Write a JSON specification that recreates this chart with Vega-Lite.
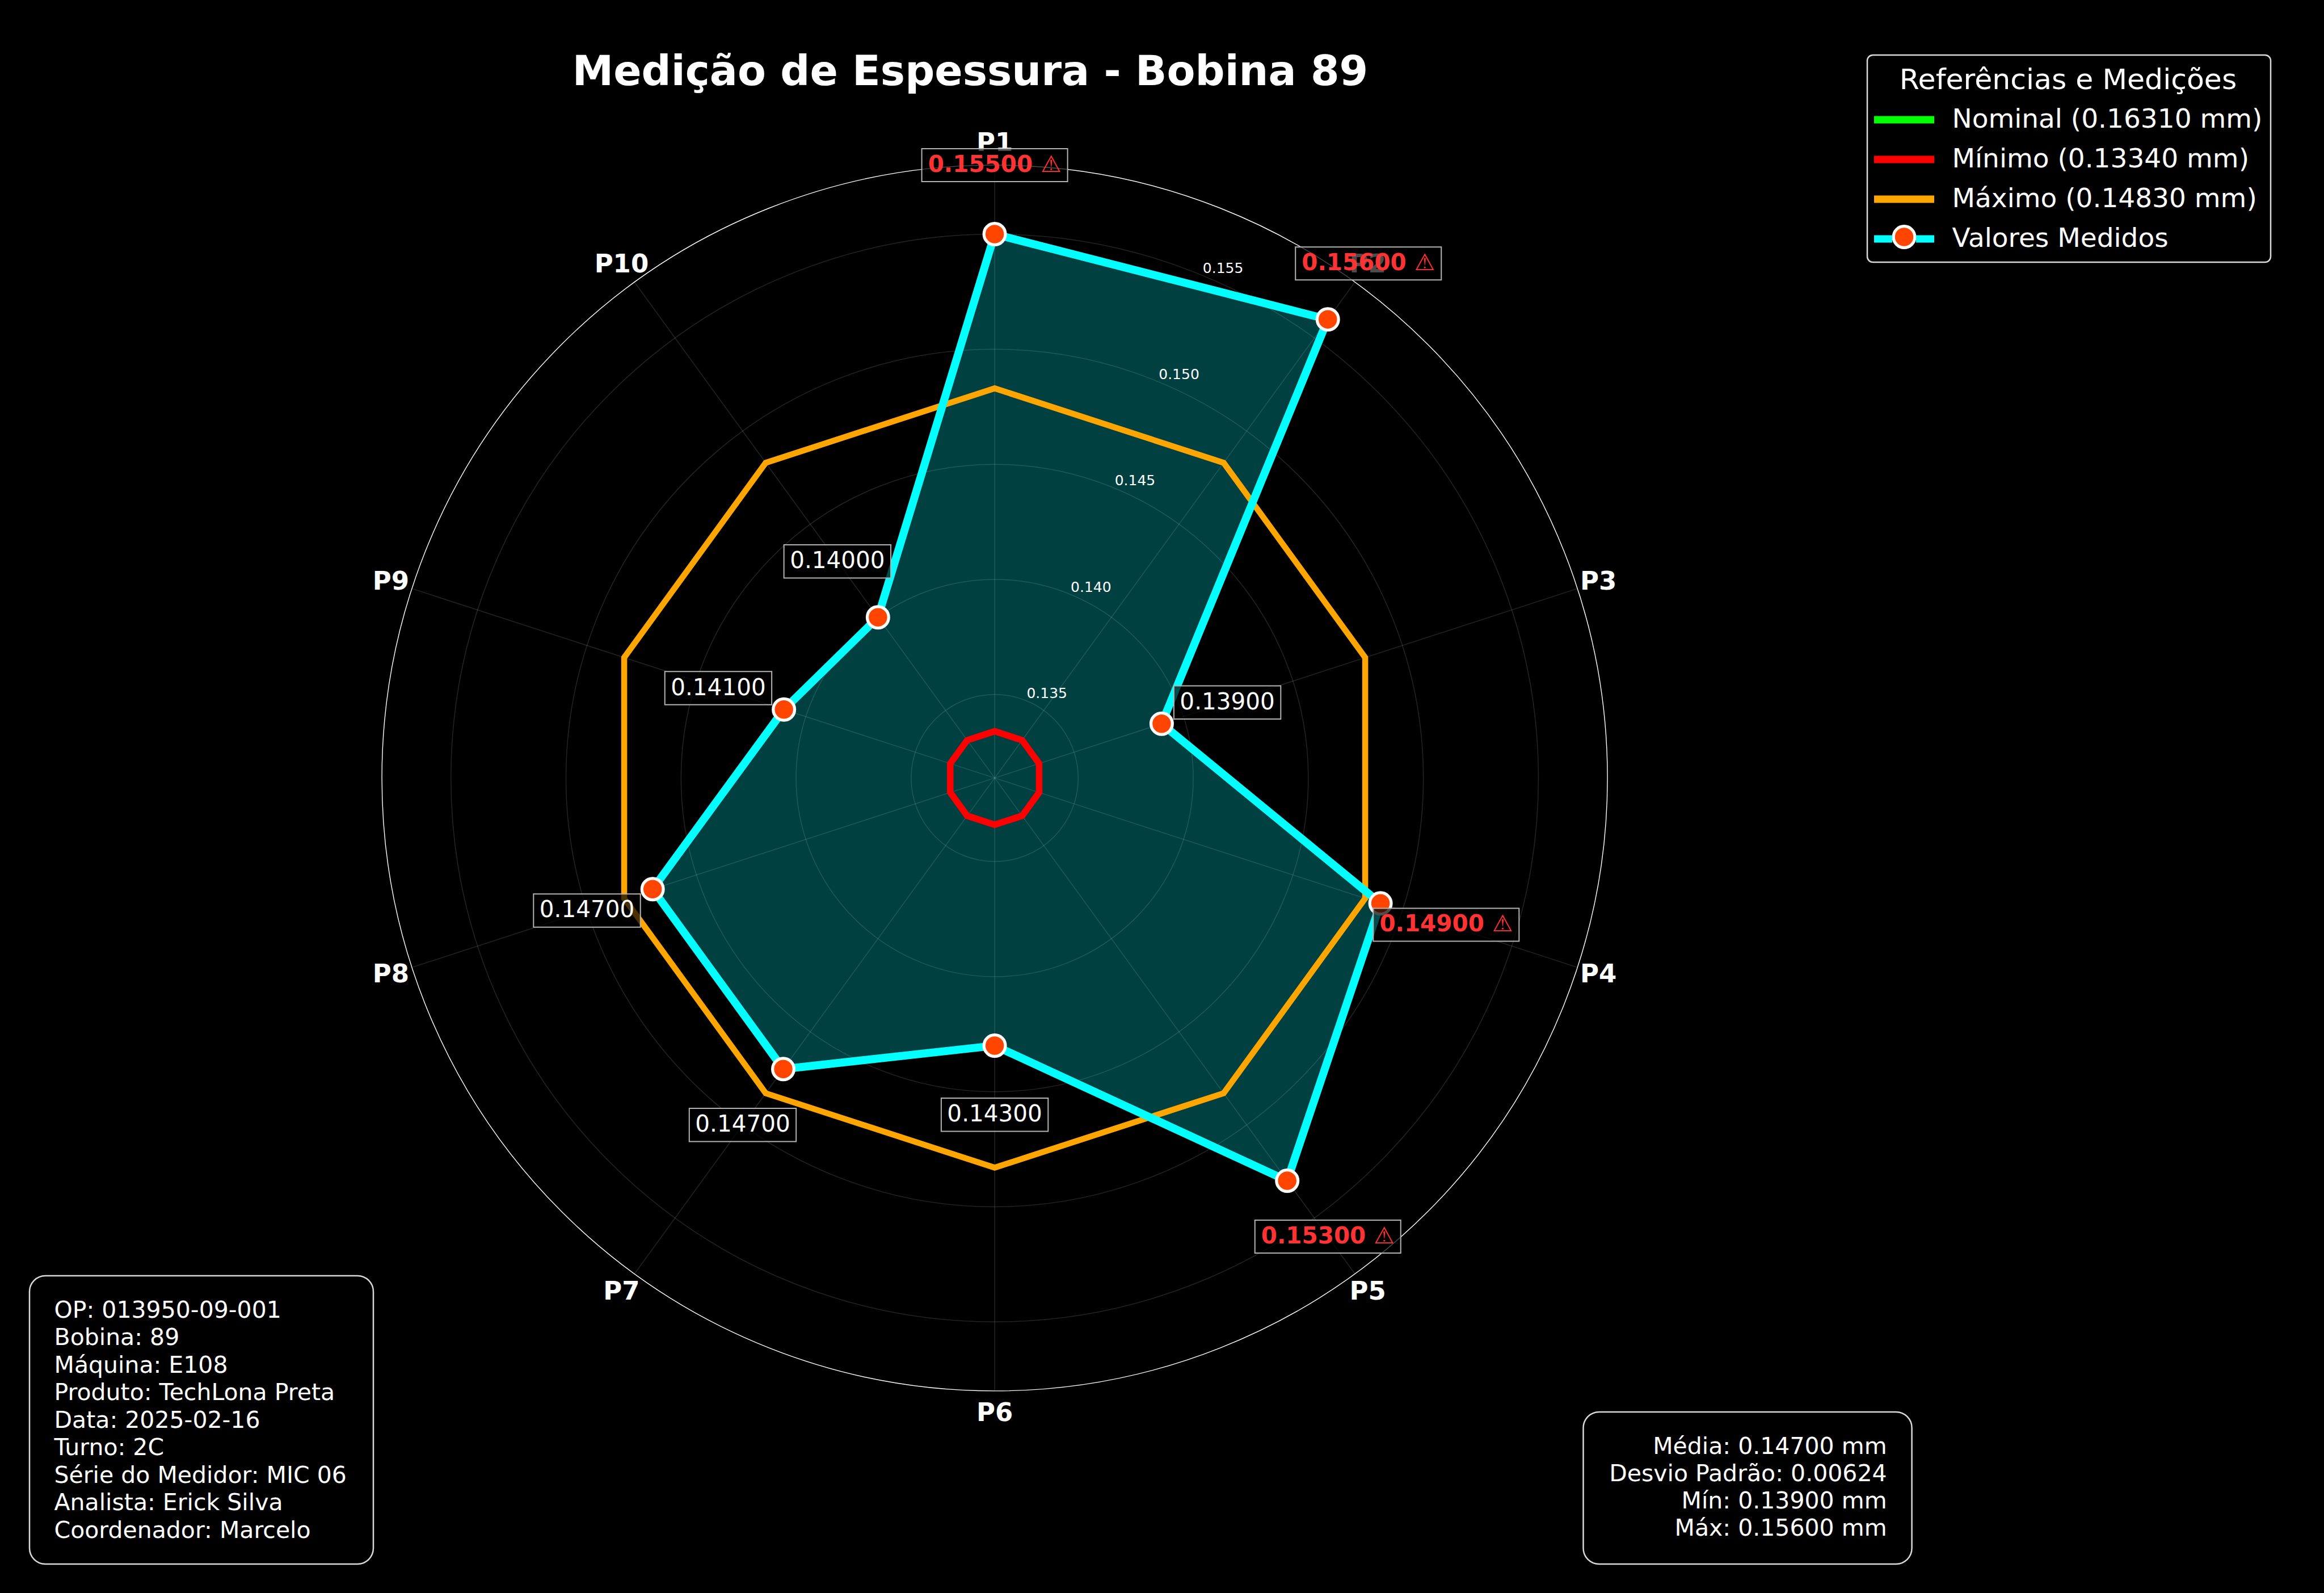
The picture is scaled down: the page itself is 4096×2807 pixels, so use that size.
{
  "$schema": "https://vega.github.io/schema/vega-lite/v6.json",
  "width": 4096,
  "height": 2807,
  "autosize": {"type": "none"},
  "padding": 0,
  "background": "black",
  "config": {"view": {"stroke": null}, "font": "DejaVu Sans"},
  "datasets": {
    "medidas": [
      {"ponto": "P1", "valor": 0.155},
      {"ponto": "P2", "valor": 0.156},
      {"ponto": "P3", "valor": 0.139},
      {"ponto": "P4", "valor": 0.149},
      {"ponto": "P5", "valor": 0.153},
      {"ponto": "P6", "valor": 0.143},
      {"ponto": "P7", "valor": 0.147},
      {"ponto": "P8", "valor": 0.147},
      {"ponto": "P9", "valor": 0.141},
      {"ponto": "P10", "valor": 0.140}
    ],
    "limites": [
      {"serie": "Mínimo (0.13340 mm)", "ponto": "P1", "valor": 0.1334},
      {"serie": "Mínimo (0.13340 mm)", "ponto": "P2", "valor": 0.1334},
      {"serie": "Mínimo (0.13340 mm)", "ponto": "P3", "valor": 0.1334},
      {"serie": "Mínimo (0.13340 mm)", "ponto": "P4", "valor": 0.1334},
      {"serie": "Mínimo (0.13340 mm)", "ponto": "P5", "valor": 0.1334},
      {"serie": "Mínimo (0.13340 mm)", "ponto": "P6", "valor": 0.1334},
      {"serie": "Mínimo (0.13340 mm)", "ponto": "P7", "valor": 0.1334},
      {"serie": "Mínimo (0.13340 mm)", "ponto": "P8", "valor": 0.1334},
      {"serie": "Mínimo (0.13340 mm)", "ponto": "P9", "valor": 0.1334},
      {"serie": "Mínimo (0.13340 mm)", "ponto": "P10", "valor": 0.1334},
      {"serie": "Máximo (0.14830 mm)", "ponto": "P1", "valor": 0.1483},
      {"serie": "Máximo (0.14830 mm)", "ponto": "P2", "valor": 0.1483},
      {"serie": "Máximo (0.14830 mm)", "ponto": "P3", "valor": 0.1483},
      {"serie": "Máximo (0.14830 mm)", "ponto": "P4", "valor": 0.1483},
      {"serie": "Máximo (0.14830 mm)", "ponto": "P5", "valor": 0.1483},
      {"serie": "Máximo (0.14830 mm)", "ponto": "P6", "valor": 0.1483},
      {"serie": "Máximo (0.14830 mm)", "ponto": "P7", "valor": 0.1483},
      {"serie": "Máximo (0.14830 mm)", "ponto": "P8", "valor": 0.1483},
      {"serie": "Máximo (0.14830 mm)", "ponto": "P9", "valor": 0.1483},
      {"serie": "Máximo (0.14830 mm)", "ponto": "P10", "valor": 0.1483}
    ],
    "ticks": [{"t": 0.135}, {"t": 0.14}, {"t": 0.145}, {"t": 0.15}, {"t": 0.155}],
    "borda": [{"t": 0.158}]
  },
  "layer": [
    {
      "data": {"name": "ticks"},
      "transform": [{"calculate": "(datum.t-0.13137)/0.02663", "as": "rn"}],
      "mark": {"type": "point", "shape": "circle", "filled": false, "stroke": "white", "strokeOpacity": 0.14, "strokeWidth": 1.5, "opacity": 1},
      "encoding": {
        "x": {"datum": 0, "type": "quantitative", "scale": {"domain": [-1.62324, 2.16935], "nice": false, "zero": false}, "axis": null},
        "y": {"datum": 0, "type": "quantitative", "scale": {"domain": [-1.32972, 1.26935], "nice": false, "zero": false}, "axis": null},
        "size": {"field": "rn", "type": "quantitative", "legend": null, "scale": {"type": "pow", "exponent": 2, "domain": [0, 1], "range": [0, 4665600], "zero": true}}
      }
    },
    {
      "data": {"name": "medidas"},
      "transform": [
        {"calculate": "toNumber(slice(datum.ponto,1))-1", "as": "i"},
        {"calculate": "datum.i*PI/5", "as": "th"},
        {"calculate": "0", "as": "centro"},
        {"calculate": "1", "as": "borda"},
        {"fold": ["centro", "borda"], "as": ["ponta", "r"]},
        {"calculate": "datum.r*sin(datum.th)", "as": "x"},
        {"calculate": "datum.r*cos(datum.th)", "as": "y"}
      ],
      "mark": {"type": "line", "stroke": "white", "strokeOpacity": 0.14, "strokeWidth": 1.5},
      "encoding": {
        "x": {"field": "x", "type": "quantitative", "axis": null},
        "y": {"field": "y", "type": "quantitative", "axis": null},
        "detail": {"field": "ponto", "type": "nominal"},
        "order": {"field": "r", "type": "quantitative"}
      }
    },
    {
      "data": {"name": "borda"},
      "transform": [{"calculate": "(datum.t-0.13137)/0.02663", "as": "rn"}],
      "mark": {"type": "point", "shape": "circle", "filled": false, "stroke": "white", "strokeWidth": 1.4, "opacity": 1},
      "encoding": {
        "x": {"datum": 0, "type": "quantitative", "axis": null},
        "y": {"datum": 0, "type": "quantitative", "axis": null},
        "size": {"field": "rn", "type": "quantitative", "legend": null}
      }
    },
    {
      "data": {"name": "medidas"},
      "transform": [
        {"calculate": "toNumber(slice(datum.ponto,1))-1", "as": "i"},
        {"calculate": "datum.i*PI/5", "as": "th"},
        {"calculate": "(datum.valor-0.13137)/0.02663", "as": "rn"},
        {"calculate": "datum.rn*sin(datum.th)", "as": "x"},
        {"calculate": "datum.rn*cos(datum.th)", "as": "y"}
      ],
      "mark": {"type": "line", "interpolate": "linear-closed", "fill": "#00FFFF", "fillOpacity": 0.25, "stroke": "#00FFFF", "strokeOpacity": 0, "strokeWidth": 0},
      "encoding": {
        "x": {"field": "x", "type": "quantitative", "axis": null},
        "y": {"field": "y", "type": "quantitative", "axis": null},
        "order": {"field": "i", "type": "quantitative"}
      }
    },
    {
      "data": {"name": "limites"},
      "transform": [
        {"filter": "datum.serie == 'Mínimo (0.13340 mm)'"},
        {"calculate": "toNumber(slice(datum.ponto,1))-1", "as": "i"},
        {"calculate": "datum.i*PI/5", "as": "th"},
        {"calculate": "(datum.valor-0.13137)/0.02663", "as": "rn"},
        {"calculate": "datum.rn*sin(datum.th)", "as": "x"},
        {"calculate": "datum.rn*cos(datum.th)", "as": "y"}
      ],
      "mark": {"type": "line", "interpolate": "linear-closed", "strokeWidth": 11.5},
      "encoding": {
        "x": {"field": "x", "type": "quantitative", "axis": null},
        "y": {"field": "y", "type": "quantitative", "axis": null},
        "order": {"field": "i", "type": "quantitative"},
        "stroke": {
          "field": "serie", "type": "nominal",
          "scale": {"domain": ["Nominal (0.16310 mm)", "Mínimo (0.13340 mm)", "Máximo (0.14830 mm)", "Valores Medidos"], "range": ["#00FF00", "#FF0000", "#FFA500", "#00FFFF"]},
          "legend": {
            "orient": "none", "legendX": 3303, "legendY": 117, "direction": "vertical", "padding": 0,
            "title": "Referências e Medições", "titleFont": "DejaVu Sans", "titleFontSize": 50.5, "titleFontWeight": "normal", "titleColor": "white", "titleAnchor": "middle", "titlePadding": 20, "titleLimit": 2000,
            "labelFont": "DejaVu Sans", "labelFontSize": 47, "labelColor": "white", "labelLimit": 2000, "labelOffset": 61,
            "symbolType": "M-3.533,0H3.533", "symbolSize": 900, "symbolStrokeWidth": 13, "symbolOffset": 29.5, "rowPadding": 17,
            "encode": {
              "symbols": {
                "update": {
                  "shape": {"signal": "datum.value === 'Valores Medidos' ? 'M-3.533,0H-1.4M1.4,0H3.533' : 'M-3.533,0H3.533'"}
                }
              }
            }
          }
        }
      }
    },
    {
      "data": {"name": "limites"},
      "transform": [
        {"filter": "datum.serie == 'Máximo (0.14830 mm)'"},
        {"calculate": "toNumber(slice(datum.ponto,1))-1", "as": "i"},
        {"calculate": "datum.i*PI/5", "as": "th"},
        {"calculate": "(datum.valor-0.13137)/0.02663", "as": "rn"},
        {"calculate": "datum.rn*sin(datum.th)", "as": "x"},
        {"calculate": "datum.rn*cos(datum.th)", "as": "y"}
      ],
      "mark": {"type": "line", "interpolate": "linear-closed", "strokeWidth": 10.5},
      "encoding": {
        "x": {"field": "x", "type": "quantitative", "axis": null},
        "y": {"field": "y", "type": "quantitative", "axis": null},
        "order": {"field": "i", "type": "quantitative"},
        "stroke": {"field": "serie", "type": "nominal"}
      }
    },
    {
      "data": {"name": "medidas"},
      "transform": [
        {"calculate": "'Valores Medidos'", "as": "serie"},
        {"calculate": "toNumber(slice(datum.ponto,1))-1", "as": "i"},
        {"calculate": "datum.i*PI/5", "as": "th"},
        {"calculate": "(datum.valor-0.13137)/0.02663", "as": "rn"},
        {"calculate": "datum.rn*sin(datum.th)", "as": "x"},
        {"calculate": "datum.rn*cos(datum.th)", "as": "y"}
      ],
      "mark": {"type": "line", "interpolate": "linear-closed", "strokeWidth": 14},
      "encoding": {
        "x": {"field": "x", "type": "quantitative", "axis": null},
        "y": {"field": "y", "type": "quantitative", "axis": null},
        "order": {"field": "i", "type": "quantitative"},
        "stroke": {"field": "serie", "type": "nominal"}
      }
    },
    {
      "data": {"name": "medidas"},
      "transform": [
        {"calculate": "toNumber(slice(datum.ponto,1))-1", "as": "i"},
        {"calculate": "datum.i*PI/5", "as": "th"},
        {"calculate": "(datum.valor-0.13137)/0.02663", "as": "rn"},
        {"calculate": "datum.rn*sin(datum.th)", "as": "x"},
        {"calculate": "datum.rn*cos(datum.th)", "as": "y"}
      ],
      "mark": {"type": "point", "shape": "circle", "filled": true, "fill": "#FF4500", "stroke": "white", "strokeWidth": 5.25, "size": 1425, "opacity": 1},
      "encoding": {
        "x": {"field": "x", "type": "quantitative", "axis": null},
        "y": {"field": "y", "type": "quantitative", "axis": null}
      }
    },
    {
      "data": {"name": "medidas"},
      "transform": [
        {"calculate": "toNumber(slice(datum.ponto,1))-1", "as": "i"},
        {"calculate": "datum.i*PI/5", "as": "th"},
        {"calculate": "1.036*sin(datum.th)", "as": "x"},
        {"calculate": "1.036*cos(datum.th)", "as": "y"}
      ],
      "mark": {"type": "text", "font": "DejaVu Sans", "fontWeight": "bold", "fontSize": 45, "color": "white", "align": "center", "baseline": "middle"},
      "encoding": {
        "x": {"field": "x", "type": "quantitative", "axis": null},
        "y": {"field": "y", "type": "quantitative", "axis": null},
        "text": {"field": "ponto", "type": "nominal"}
      }
    },
    {
      "data": {"name": "ticks"},
      "transform": [
        {"calculate": "(datum.t-0.13137)/0.02663", "as": "rn"},
        {"calculate": "datum.rn*sin(PI/8)", "as": "x"},
        {"calculate": "datum.rn*cos(PI/8)", "as": "y"}
      ],
      "mark": {"type": "text", "font": "DejaVu Sans", "fontSize": 25, "color": "white", "align": "left", "baseline": "bottom"},
      "encoding": {
        "x": {"field": "x", "type": "quantitative", "axis": null},
        "y": {"field": "y", "type": "quantitative", "axis": null},
        "text": {"field": "t", "type": "quantitative", "format": ".3f"}
      }
    },
    {
      "data": {"name": "medidas"},
      "transform": [
        {"filter": "datum.valor <= 0.1483"},
        {"calculate": "toNumber(slice(datum.ponto,1))-1", "as": "i"},
        {"calculate": "datum.i*PI/5", "as": "th"},
        {"calculate": "(datum.valor+0.003-0.13137)/0.02663", "as": "rl"},
        {"calculate": "datum.rl*sin(datum.th)", "as": "x"},
        {"calculate": "datum.rl*cos(datum.th)", "as": "y"}
      ],
      "mark": {"type": "point", "shape": "M-1,-0.3105H1V0.3105H-1Z", "size": 35495, "filled": true, "fill": "black", "fillOpacity": 0.7, "stroke": "#b3b3b3", "strokeWidth": 2, "opacity": 1},
      "encoding": {
        "x": {"field": "x", "type": "quantitative", "axis": null},
        "y": {"field": "y", "type": "quantitative", "axis": null}
      }
    },
    {
      "data": {"name": "medidas"},
      "transform": [
        {"filter": "datum.valor > 0.1483"},
        {"calculate": "toNumber(slice(datum.ponto,1))-1", "as": "i"},
        {"calculate": "datum.i*PI/5", "as": "th"},
        {"calculate": "(datum.valor+0.003-0.13137)/0.02663", "as": "rl"},
        {"calculate": "datum.rl*sin(datum.th)", "as": "x"},
        {"calculate": "datum.rl*cos(datum.th)", "as": "y"}
      ],
      "mark": {"type": "point", "shape": "M-1,-0.2257H1V0.2257H-1Z", "size": 66049, "filled": true, "fill": "black", "fillOpacity": 0.7, "stroke": "#b3b3b3", "strokeWidth": 2, "opacity": 1},
      "encoding": {
        "x": {"field": "x", "type": "quantitative", "axis": null},
        "y": {"field": "y", "type": "quantitative", "axis": null}
      }
    },
    {
      "data": {"name": "medidas"},
      "transform": [
        {"filter": "datum.valor <= 0.1483"},
        {"calculate": "toNumber(slice(datum.ponto,1))-1", "as": "i"},
        {"calculate": "datum.i*PI/5", "as": "th"},
        {"calculate": "(datum.valor+0.003-0.13137)/0.02663", "as": "rl"},
        {"calculate": "datum.rl*sin(datum.th)", "as": "x"},
        {"calculate": "datum.rl*cos(datum.th)", "as": "y"}
      ],
      "mark": {"type": "text", "font": "DejaVu Sans", "fontSize": 40.5, "color": "white", "align": "center", "baseline": "middle"},
      "encoding": {
        "x": {"field": "x", "type": "quantitative", "axis": null},
        "y": {"field": "y", "type": "quantitative", "axis": null},
        "text": {"field": "valor", "type": "quantitative", "format": ".5f"}
      }
    },
    {
      "data": {"name": "medidas"},
      "transform": [
        {"filter": "datum.valor > 0.1483"},
        {"calculate": "toNumber(slice(datum.ponto,1))-1", "as": "i"},
        {"calculate": "datum.i*PI/5", "as": "th"},
        {"calculate": "(datum.valor+0.003-0.13137)/0.02663", "as": "rl"},
        {"calculate": "datum.rl*sin(datum.th)", "as": "x"},
        {"calculate": "datum.rl*cos(datum.th)", "as": "y"},
        {"calculate": "format(datum.valor, '.5f') + ' ⚠'", "as": "rotulo"}
      ],
      "mark": {"type": "text", "font": "DejaVu Sans", "fontWeight": "bold", "fontSize": 40.5, "color": "#FF3333", "align": "center", "baseline": "middle"},
      "encoding": {
        "x": {"field": "x", "type": "quantitative", "axis": null},
        "y": {"field": "y", "type": "quantitative", "axis": null},
        "text": {"field": "rotulo", "type": "nominal"}
      }
    },
    {
      "data": {"values": [{"titulo": "Medição de Espessura - Bobina 89"}]},
      "mark": {"type": "text", "font": "DejaVu Sans", "fontWeight": "bold", "fontSize": 72.8, "color": "white", "align": "center", "baseline": "alphabetic"},
      "encoding": {
        "x": {"datum": -0.03991, "type": "quantitative", "axis": null},
        "y": {"datum": 1.13009, "type": "quantitative", "axis": null},
        "text": {"field": "titulo", "type": "nominal"}
      }
    },
    {
      "data": {"values": [{"caixa": "legenda"}]},
      "mark": {"type": "point", "shape": "M-0.97187,-0.51336H0.97187A0.02813,0.02813 0 0 1 1,-0.48523V0.48523A0.02813,0.02813 0 0 1 0.97187,0.51336H-0.97187A0.02813,0.02813 0 0 1 -1,0.48523V-0.48523A0.02813,0.02813 0 0 1 -0.97187,-0.51336Z", "size": 505521, "filled": true, "fill": "black", "stroke": "#d9d9d9", "strokeWidth": 2.5, "opacity": 1},
      "encoding": {
        "x": {"datum": 1.75315, "type": "quantitative", "axis": null},
        "y": {"datum": 1.01056, "type": "quantitative", "axis": null}
      }
    },
    {
      "data": {"values": [{"marcador": "Valores Medidos"}]},
      "mark": {"type": "point", "shape": "circle", "filled": true, "fill": "#FF4500", "stroke": "white", "strokeWidth": 5.25, "size": 1425, "opacity": 1},
      "encoding": {
        "x": {"datum": 1.48417, "type": "quantitative", "axis": null},
        "y": {"datum": 0.88269, "type": "quantitative", "axis": null}
      }
    },
    {
      "data": {"values": [{"caixa": "info"}]},
      "mark": {"type": "point", "shape": "M-0.90759,-0.83828H0.90759A0.09241,0.09241 0 0 1 1,-0.74587V0.74587A0.09241,0.09241 0 0 1 0.90759,0.83828H-0.90759A0.09241,0.09241 0 0 1 -1,0.74587V-0.74587A0.09241,0.09241 0 0 1 -0.90759,-0.83828Z", "size": 367236, "filled": true, "fill": "black", "stroke": "#d9d9d9", "strokeWidth": 2.5, "opacity": 1},
      "encoding": {
        "x": {"datum": -1.29454, "type": "quantitative", "axis": null},
        "y": {"datum": -1.04731, "type": "quantitative", "axis": null}
      }
    },
    {
      "data": {"values": [{"info": "OP: 013950-09-001\nBobina: 89\nMáquina: E108\nProduto: TechLona Preta\nData: 2025-02-16\nTurno: 2C\nSérie do Medidor: MIC 06\nAnalista: Erick Silva\nCoordenador: Marcelo"}]},
      "mark": {"type": "text", "font": "DejaVu Sans", "fontSize": 41, "lineHeight": 48.5, "lineBreak": "\n", "color": "white", "align": "left", "baseline": "alphabetic"},
      "encoding": {
        "x": {"datum": -1.53481, "type": "quantitative", "axis": null},
        "y": {"datum": -0.88028, "type": "quantitative", "axis": null},
        "text": {"field": "info", "type": "nominal"}
      }
    },
    {
      "data": {"values": [{"caixa": "estatisticas"}]},
      "mark": {"type": "point", "shape": "M-0.9033,-0.46278H0.9033A0.0967,0.0967 0 0 1 1,-0.36608V0.36608A0.0967,0.0967 0 0 1 0.9033,0.46278H-0.9033A0.0967,0.0967 0 0 1 -1,0.36608V-0.36608A0.0967,0.0967 0 0 1 -0.9033,-0.46278Z", "size": 335357, "filled": true, "fill": "black", "stroke": "#d9d9d9", "strokeWidth": 2.5, "opacity": 1},
      "encoding": {
        "x": {"datum": 1.22866, "type": "quantitative", "axis": null},
        "y": {"datum": -1.15843, "type": "quantitative", "axis": null}
      }
    },
    {
      "data": {"values": [{"stats": "Média: 0.14700 mm\nDesvio Padrão: 0.00624\nMín: 0.13900 mm\nMáx: 0.15600 mm"}]},
      "mark": {"type": "text", "font": "DejaVu Sans", "fontSize": 41, "lineHeight": 48, "lineBreak": "\n", "color": "white", "align": "right", "baseline": "alphabetic"},
      "encoding": {
        "x": {"datum": 1.45602, "type": "quantitative", "axis": null},
        "y": {"datum": -1.10315, "type": "quantitative", "axis": null},
        "text": {"field": "stats", "type": "nominal"}
      }
    }
  ]
}
